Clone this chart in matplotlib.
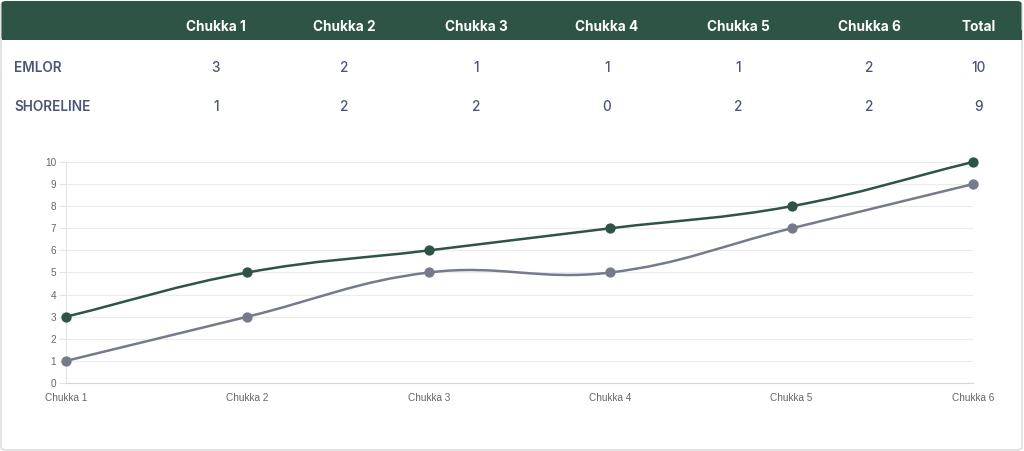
import numpy as np
import matplotlib
matplotlib.use("Agg")
import matplotlib.pyplot as plt
from matplotlib.patches import FancyBboxPatch, Rectangle, PathPatch
from matplotlib.path import Path

# ---------------- data ----------------
columns = ["Chukka 1", "Chukka 2", "Chukka 3", "Chukka 4", "Chukka 5", "Chukka 6", "Total"]
teams = ["EMLOR", "SHORELINE"]
emlor_goals = [3, 2, 1, 1, 1, 2, 10]
shoreline_goals = [1, 2, 2, 0, 2, 2, 9]

x_labels = ["Chukka 1", "Chukka 2", "Chukka 3", "Chukka 4", "Chukka 5", "Chukka 6"]
emlor_cum = [3, 5, 6, 7, 8, 10]
shoreline_cum = [1, 3, 5, 5, 7, 9]
y_ticks = list(range(0, 11))

GREEN = "#2e5446"
GREY = "#767b8b"
TXT = "#4b5576"

W, H = 1024, 451
fig = plt.figure(figsize=(W / 100, H / 100), dpi=100)
fig.patch.set_facecolor("white")

def px(x, y):
    return x / W, 1 - y / H

# card
card = FancyBboxPatch((1 / W, 1 / H), (W - 3) / W, (H - 3) / H,
                      boxstyle="round,pad=0,rounding_size=0.006",
                      transform=fig.transFigure, facecolor="white",
                      edgecolor="#d9d9d9", linewidth=1.0, zorder=-2)
fig.patches.append(card)
# header band
hdr = FancyBboxPatch((1.5 / W, 1 - 40 / H), (W - 4) / W, 39 / H,
                     boxstyle="round,pad=0,rounding_size=0.005",
                     transform=fig.transFigure, facecolor=GREEN,
                     edgecolor="none", zorder=-1)
fig.patches.append(hdr)
fig.patches.append(Rectangle((1.5 / W, 1 - 40 / H), (W - 4) / W, 10 / H,
                             transform=fig.transFigure, facecolor=GREEN,
                             edgecolor="none", zorder=-1))

col_x = [216, 344, 476, 607, 738, 869, 979]
for cx, name in zip(col_x, columns):
    fig.text(*px(cx, 27), name, ha="center", va="center", color="white",
             fontsize=9.8, fontweight="bold", family="Inter", zorder=3)

row_y = [68, 107]
rows = [emlor_goals, shoreline_goals]
for ry, team, vals in zip(row_y, teams, rows):
    fig.text(*px(14, ry), team, ha="left", va="center", color=TXT,
             fontsize=9.8, fontweight="semibold", family="Inter")
    for cx, v in zip(col_x, vals):
        fig.text(*px(cx, ry), str(v), ha="center", va="center", color=TXT,
                 fontsize=9.8, fontweight="medium", family="Inter")

# ---------------- chart ----------------
x0, x1, y0, y1 = 66, 973, 162, 383
ax = fig.add_axes([x0 / W, 1 - y1 / H, (x1 - x0) / W, (y1 - y0) / H], zorder=5)
ax.set_xlim(0, len(x_labels) - 1)
ax.set_ylim(0, 10)
ax.set_facecolor("none")
for s in ["top", "right"]:
    ax.spines[s].set_visible(False)
ax.spines["left"].set_color("#e4e4e4")
ax.spines["bottom"].set_color("#d6d6d6")
ax.spines["left"].set_linewidth(0.8)
ax.spines["bottom"].set_linewidth(0.8)
ax.set_yticks(y_ticks)
ax.set_yticklabels([str(t) for t in y_ticks])
ax.set_xticks(range(len(x_labels)))
ax.set_xticklabels(x_labels)
ax.tick_params(axis="y", length=5, width=0.8, color="#e4e4e4", labelsize=7.2,
               labelcolor="#666666", pad=2)
ax.tick_params(axis="x", length=0, labelsize=7.2, labelcolor="#666666", pad=7.5)
for lab in ax.get_xticklabels() + ax.get_yticklabels():
    lab.set_family("Liberation Sans")
ax.grid(axis="y", color="#ececec", linewidth=0.8)
ax.set_axisbelow(True)

fig.canvas.draw()

def spline_path(xs, ys, tension=0.4):
    pts = ax.transData.transform(np.column_stack([xs, ys]))
    n = len(pts)
    cps = []
    for i in range(n):
        prev = pts[max(i - 1, 0)]
        cur = pts[i]
        nxt = pts[min(i + 1, n - 1)]
        d01 = np.hypot(*(cur - prev))
        d12 = np.hypot(*(nxt - cur))
        tot = d01 + d12
        s01 = d01 / tot if tot else 0
        s12 = d12 / tot if tot else 0
        fa = tension * s01
        fb = tension * s12
        cp_prev = cur - fa * (nxt - prev)
        cp_next = cur + fb * (nxt - prev)
        cps.append((cp_prev, cp_next))
    verts = [pts[0]]
    codes = [Path.MOVETO]
    for i in range(1, n):
        verts += [cps[i - 1][1], cps[i][0], pts[i]]
        codes += [Path.CURVE4] * 3
    verts = ax.transData.inverted().transform(np.array(verts))
    return Path(verts, codes)

xs = np.arange(len(x_labels))
for ys, col, z in [(shoreline_cum, GREY, 3), (emlor_cum, GREEN, 4)]:
    pp = PathPatch(spline_path(xs, ys), facecolor="none", edgecolor=col,
                   linewidth=1.8, zorder=z, clip_on=False, capstyle="round")
    ax.add_patch(pp)
    ax.plot(xs, ys, "o", color=col, markersize=6.4, zorder=z + 0.5, clip_on=False)

fig.savefig("out.png", dpi=100, facecolor="white")
